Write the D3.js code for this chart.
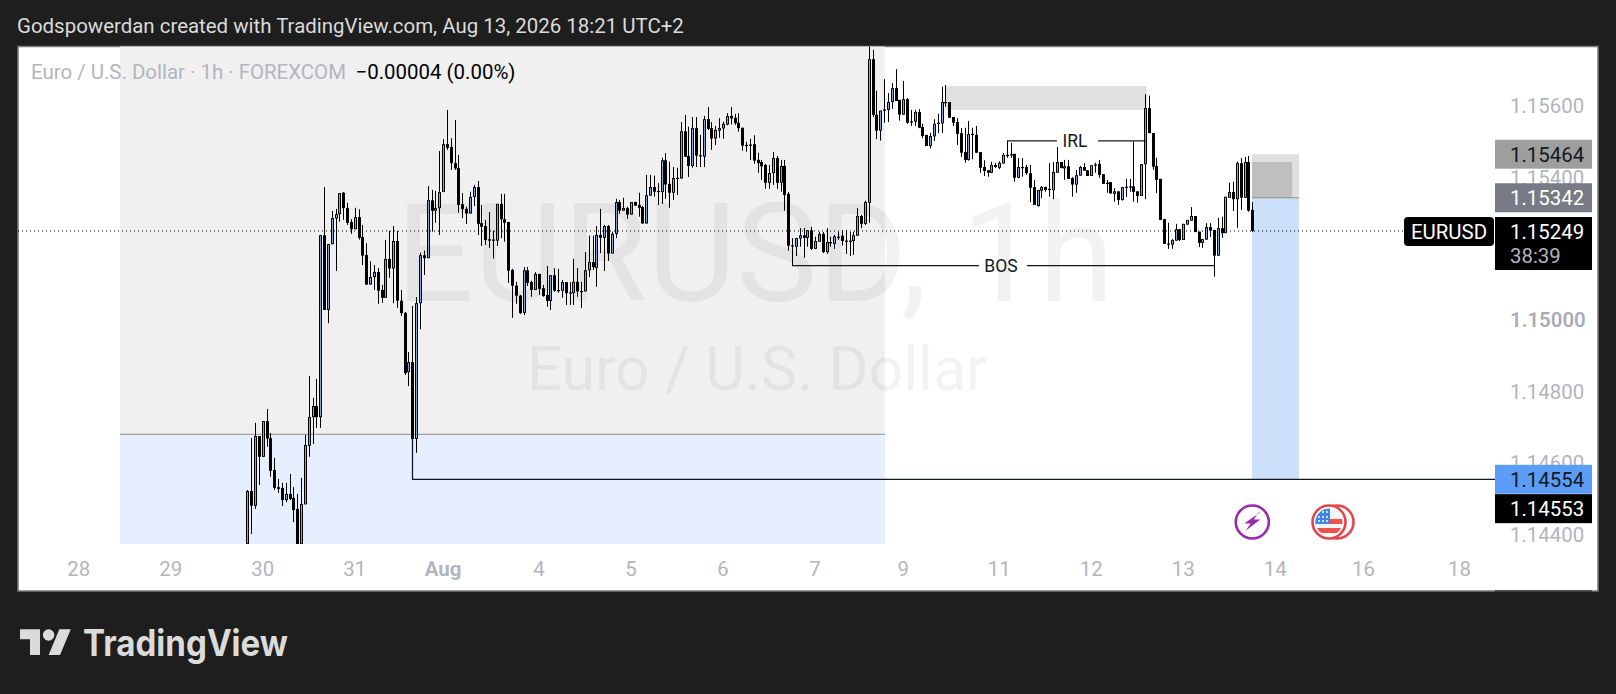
<!DOCTYPE html>
<html><head><meta charset="utf-8">
<script src="https://cdn.jsdelivr.net/npm/d3@7"></script>
<style>html,body{margin:0;padding:0;background:#1e1e1e;overflow:hidden}svg{display:block}text{font-family:Roboto,sans-serif}</style>
</head><body><svg id="c" width="1616" height="694"></svg>
<script>
// All OHLC values are offsets from 1.15000, in 0.00001 units.
const basePrice = 1.15;
const openOff = [
-627,-479,-520,-325,-383,-283,-331,-420,-468,-470,
-504,-487,-498,-529,-627,-516,-352,-272,-241,-272,
237,28,212,284,296,356,313,274,254,288,
232,182,99,120,134,84,62,171,144,221,
54,20,-146,-118,-333,47,181,173,335,306,
313,358,492,484,439,425,324,311,298,344,
372,271,263,226,225,222,325,282,274,140,
96,68,20,139,106,84,129,89,70,53,
125,84,82,106,77,75,107,81,80,139,
162,146,238,230,263,186,241,330,306,313,
295,330,322,316,270,348,372,361,358,447,
381,356,398,396,528,459,431,537,461,457,
562,537,508,530,536,547,571,566,552,538,
490,491,492,448,442,434,384,411,453,384,
431,353,209,205,228,237,230,251,199,219,
241,190,218,213,233,236,222,222,221,236,
291,269,328,730,574,530,589,588,610,649,
616,575,618,556,555,582,540,518,487,514,
552,550,610,610,568,554,523,470,448,521,
518,470,428,419,412,434,426,438,462,464,
465,398,428,428,411,372,319,362,372,367,
363,412,442,424,430,397,379,404,428,419,
403,435,437,408,384,386,353,360,336,373,
374,374,360,347,436,593,523,431,395,282,
214,211,222,254,224,267,278,291,247,216,
225,260,252,180,257,243,342,358,338,439,
342,442,308];
const closeOff = [
-479,-520,-325,-383,-283,-332,-422,-470,-473,-504,
-487,-501,-532,-627,-515,-350,-272,-241,-272,237,
28,212,285,296,355,313,272,254,288,230,
180,99,120,134,82,62,171,144,221,54,
19,-149,-118,-333,47,181,173,336,306,313,
358,492,482,439,424,322,310,298,344,372,
269,261,224,222,223,325,282,272,138,96,
68,19,139,104,84,129,87,67,53,125,
82,81,106,75,75,107,80,79,139,162,
148,238,230,263,186,241,330,306,313,295,
330,320,314,270,349,372,359,358,447,379,
356,397,396,528,457,431,537,460,459,562,
535,508,532,537,549,571,564,551,537,488,
488,489,446,439,430,384,411,453,384,431,
350,208,207,229,237,230,251,199,221,241,
190,218,216,234,231,221,220,220,237,291,
269,330,730,574,530,586,586,610,649,613,
575,618,552,554,582,538,515,487,515,549,
550,610,609,566,552,521,468,448,520,519,
468,426,417,412,434,428,440,462,460,463,
398,428,426,411,370,322,364,372,364,365,
414,442,425,430,395,379,405,428,418,403,
433,433,406,381,383,354,360,336,372,372,
372,358,347,436,593,523,429,392,280,213,
211,224,254,224,269,280,291,246,216,226,
260,250,180,257,243,345,358,338,439,342,
442,306,249];
const highOff = [
-476,-330,-288,-325,-283,-249,-316,-386,-445,-456,
-456,-431,-468,-487,-442,-322,-157,-218,-165,238,
372,213,305,311,355,358,328,282,314,310,
266,215,164,154,145,98,224,249,263,249,
84,22,-90,39,64,188,194,375,364,361,
473,506,588,509,560,462,355,317,359,378,
389,322,280,302,250,325,353,353,274,143,
107,70,148,148,110,134,129,98,151,125,
145,143,112,106,106,171,145,107,190,236,
236,263,311,266,266,247,339,336,342,317,
330,331,356,319,406,406,404,383,454,467,
443,428,426,554,574,541,568,568,518,571,
596,554,543,565,555,579,596,577,579,538,
499,507,517,468,448,437,434,470,459,448,
448,358,229,230,257,257,251,261,233,247,
246,257,233,238,247,252,252,246,247,313,
294,334,767,756,642,586,674,635,663,702,
616,669,621,588,588,590,549,518,524,562,
577,653,658,610,568,565,537,538,557,538,
543,470,447,419,443,440,444,467,501,496,
465,453,453,434,434,392,364,375,373,439,
442,484,442,448,448,400,420,431,439,419,
433,440,448,408,392,386,369,360,372,395,
395,499,360,436,632,628,523,454,395,283,
272,226,269,255,269,280,316,291,247,227,
271,271,252,286,289,345,384,387,443,453,
456,459,330];
const lowOff = [
-627,-599,-529,-462,-384,-355,-439,-476,-484,-521,
-510,-504,-566,-627,-627,-516,-383,-347,-302,-302,
28,-9,212,137,275,280,266,241,254,225,
154,99,99,84,45,48,62,118,47,34,
11,-154,-185,-446,-372,-26,126,173,247,272,
238,358,476,420,420,300,285,269,298,319,
238,207,210,202,172,207,229,219,104,6,
45,17,14,95,65,84,70,65,37,28,
79,76,62,42,42,42,65,33,80,120,
140,93,187,137,165,186,229,297,306,283,
295,320,289,270,270,348,345,322,325,339,
314,336,350,396,457,400,426,428,428,428,
532,476,490,510,507,545,547,546,527,474,
471,448,437,412,392,367,367,378,367,359,
306,194,152,179,205,174,205,196,199,219,
187,185,205,199,224,208,185,179,182,236,
257,266,272,568,506,502,552,554,591,613,
558,575,549,543,543,537,509,487,480,501,
523,523,597,566,543,490,456,440,446,450,
468,412,403,401,411,426,422,437,454,454,
387,397,401,406,330,322,317,341,359,345,
338,412,425,392,395,345,356,404,418,403,
403,412,398,381,356,354,331,322,334,344,
359,331,328,347,338,523,420,355,280,213,
199,199,222,221,224,267,278,246,204,202,
224,232,121,180,230,243,342,305,258,308,
342,303,246];

const yTicks = [1.156,1.154,1.15,1.148,1.146,1.144];
const timeLabels = ["28","29","30","31","Aug","4","5","6","7","9","11","12","13","14","16","18"];
const timeBars = [-44,-20,4,28,51,76,100,124,148,171,196,220,244,268,291,316];
const lastPrice = 1.15249, stopPrice = 1.15464, entryPrice = 1.15342, targetPrice = 1.14554, pricePrice2 = 1.14553;
const zoneGreyBars = [-33.2,166.2];
const zoneDivider = 1.1468, zoneBottom = 1.14373, zoneTop = 1.1695;
const fvgBars = [181.9,234.5], fvgPrices = [1.15655,1.15588];
const posBars = [261.9,274.2,272.4], posInner = 1.15442;
const bosPrice = 1.15152;
const irlPrice = 1.15501;

const open=openOff.map(v=>basePrice+v/1e5), close=closeOff.map(v=>basePrice+v/1e5),
      high=highOff.map(v=>basePrice+v/1e5), low=lowOff.map(v=>basePrice+v/1e5);

const x = d3.scaleLinear().domain([0,262]).range([247.4,1252.3]);
const y = d3.scaleLinear().domain([lastPrice,targetPrice]).range([231,479.3]);
const px = i => Math.round(x(i));
const svg = d3.select("#c");
const paneL=18, paneT=46.5, paneR=1598, paneB=591, axisX=1495, FS=20.4;

svg.append("rect").attr("width",1616).attr("height",694).attr("fill","#1e1e1e");
svg.append("rect").attr("x",paneL).attr("y",paneT).attr("width",paneR-paneL).attr("height",paneB-paneT)
   .attr("fill","#fff").attr("stroke","#7a7a7a").attr("stroke-width",1.5);
svg.append("line").attr("x1",axisX).attr("x2",1592).attr("y1",paneB).attr("y2",paneB).attr("stroke","#333").attr("stroke-width",1.5);

const defs=svg.append("defs");
defs.append("clipPath").attr("id","pane").append("rect").attr("x",paneL).attr("y",paneT).attr("width",paneR-paneL).attr("height",paneB-paneT);
const g = svg.append("g").attr("clip-path","url(#pane)");

function box(xa,xb,pa,pb,fill){return g.append("rect").attr("x",x(xa)).attr("width",x(xb)-x(xa)).attr("y",y(pa)).attr("height",y(pb)-y(pa)).attr("fill",fill);}
// zones
box(zoneGreyBars[0],zoneGreyBars[1],zoneTop,zoneDivider,"#f0f0f0");
box(zoneGreyBars[0],zoneGreyBars[1],zoneDivider,zoneBottom,"#e6effd");
g.append("line").attr("x1",x(zoneGreyBars[0])).attr("x2",x(zoneGreyBars[1])).attr("y1",y(zoneDivider)).attr("y2",y(zoneDivider)).attr("stroke","#a0a0a0").attr("stroke-width",1.2);

// watermark
g.append("text").attr("x",755).attr("y",301).attr("text-anchor","middle").attr("font-size",137).attr("fill","rgba(0,0,0,0.052)").text("EURUSD, 1h");
g.append("text").attr("x",757).attr("y",390).attr("text-anchor","middle").attr("font-size",61).attr("fill","rgba(0,0,0,0.052)").text("Euro / U.S. Dollar");

box(fvgBars[0],fvgBars[1],fvgPrices[0],fvgPrices[1],"#e0e0e0");
box(posBars[0],posBars[1],stopPrice,entryPrice,"#e0e0e0");
box(posBars[0],posBars[2],posInner,entryPrice,"#bfbfbf");
box(posBars[0],posBars[1],entryPrice,targetPrice,"#cce0fa");
g.append("line").attr("x1",x(posBars[0])).attr("x2",x(posBars[1])).attr("y1",y(entryPrice)).attr("y2",y(entryPrice)).attr("stroke","#8a8a8a").attr("stroke-width",1);

// last price dotted line
g.append("line").attr("x1",paneL).attr("x2",1404).attr("y1",y(lastPrice)).attr("y2",y(lastPrice))
 .attr("stroke","#000").attr("stroke-width",1).attr("stroke-dasharray","1 3");

// candles
const idx=d3.range(open.length);
g.append("g").selectAll("line").data(idx).join("line")
 .attr("x1",i=>px(i)+.5).attr("x2",i=>px(i)+.5).attr("y1",i=>y(high[i])).attr("y2",i=>y(low[i]))
 .attr("stroke","#000").attr("stroke-width",1);
const bodies=g.append("g");
bodies.selectAll("rect.b").data(idx).join("rect").attr("class","b")
 .attr("x",i=>px(i)-1).attr("width",3)
 .attr("y",i=>y(Math.max(open[i],close[i])))
 .attr("height",i=>Math.max(1.2,Math.abs(y(open[i])-y(close[i]))))
 .attr("fill","#000");
bodies.selectAll("rect.u").data(idx.filter(i=>close[i]>open[i])).join("rect").attr("class","u")
 .attr("x",i=>px(i)).attr("width",1)
 .attr("y",i=>y(close[i])+.8)
 .attr("height",i=>Math.max(0,y(open[i])-y(close[i])-1.6))
 .attr("fill","#7ea6d6");

// annotations
const note = g.append("g").attr("stroke","#131722").attr("stroke-width",1.3);
note.append("line").attr("x1",px(43)+.5).attr("x2",px(43)+.5).attr("y1",y(close[43])).attr("y2",y(targetPrice));
note.append("line").attr("x1",px(43)).attr("x2",axisX).attr("y1",y(targetPrice)).attr("y2",y(targetPrice));
note.append("line").attr("x1",px(142)).attr("x2",px(142)+187).attr("y1",y(bosPrice)).attr("y2",y(bosPrice));
note.append("line").attr("x1",px(142)+235).attr("x2",px(252)+.5).attr("y1",y(bosPrice)).attr("y2",y(bosPrice));
note.append("line").attr("x1",px(198)).attr("x2",px(198)+50).attr("y1",y(irlPrice)).attr("y2",y(irlPrice));
note.append("line").attr("x1",px(198)+91).attr("x2",px(234)+2).attr("y1",y(irlPrice)).attr("y2",y(irlPrice));
g.append("text").attr("x",px(142)+209).attr("y",y(bosPrice)+6).attr("text-anchor","middle").attr("font-size",17.5).attr("fill","#131722").text("BOS");
g.append("text").attr("x",px(198)+68).attr("y",y(irlPrice)+6).attr("text-anchor","middle").attr("font-size",17.5).attr("fill","#131722").text("IRL");

// price axis
svg.append("g").selectAll("text").data(yTicks).join("text")
 .attr("x",1510).attr("y",d=>y(d)+7.5).attr("font-size",FS).attr("fill",d=>d===1.15?"#a9acb6":"#b2b5be")
 .attr("font-weight",d=>d===1.15?600:400).text(d=>d.toFixed(5));

function priceTag(p,bg,fg,bottom){
 const yc=y(p)+(bottom||0);
 svg.append("rect").attr("x",axisX).attr("y",yc-14.5).attr("width",97).attr("height",29).attr("fill",bg);
 svg.append("text").attr("x",1510).attr("y",yc+7.5).attr("font-size",FS).attr("fill",fg).text(p.toFixed(5));
}
priceTag(stopPrice,"#9e9e9e","#131722");
priceTag(entryPrice,"#787b86","#ffffff");
svg.append("rect").attr("x",1404).attr("y",217).attr("width",90).attr("height",29).attr("rx",4).attr("fill","#000");
svg.append("rect").attr("x",axisX).attr("y",217).attr("width",97).attr("height",53).attr("fill","#000");
svg.append("text").attr("x",1449).attr("y",239).attr("text-anchor","middle").attr("font-size",FS).attr("fill","#fff").text("EURUSD");
svg.append("text").attr("x",1510).attr("y",239).attr("font-size",FS).attr("fill","#fff").text(lastPrice.toFixed(5));
svg.append("text").attr("x",1510).attr("y",263).attr("font-size",FS).attr("fill","#b2b5be").text("38:39");
priceTag(targetPrice,"#5b9cf6","#131722");
priceTag(pricePrice2,"#000","#fff",29);

// time axis
svg.append("g").selectAll("text").data(timeLabels).join("text")
 .attr("x",(d,i)=>x(timeBars[i])).attr("y",576).attr("text-anchor","middle").attr("font-size",FS)
 .attr("font-weight",d=>d==="Aug"?700:400).attr("fill","#b2b5be").text(d=>d);

// event icons
const bolt=svg.append("g").attr("transform",`translate(${x(262)},522)`);
bolt.append("circle").attr("r",16.5).attr("fill","#fff").attr("stroke","#9c27b0").attr("stroke-width",2.6);
bolt.append("path").attr("d","M7.5,-9.5 L-8,1.5 L-1.5,1.5 L-7,9 L8,-2.5 L1.5,-2.5 L6,-9.5 Z").attr("fill","#9c27b0");
const flag=svg.append("g").attr("transform",`translate(${x(282)},522)`);
flag.append("circle").attr("cx",8).attr("r",16.5).attr("fill","#fff").attr("stroke","#e5444b").attr("stroke-width",2.6);
flag.append("circle").attr("r",16.5).attr("fill","#fff").attr("stroke","#e5444b").attr("stroke-width",2.6);
defs.append("clipPath").attr("id","fl").append("circle").attr("cx",0).attr("cy",0).attr("r",13.5);
const fl=flag.append("g").attr("clip-path","url(#fl)");
fl.append("rect").attr("x",-14).attr("y",-14).attr("width",28).attr("height",28).attr("fill","#f5f5f5");
[-3,6].forEach(s=>fl.append("rect").attr("x",-14).attr("y",s).attr("width",28).attr("height",5).attr("fill","#ef5350"));
fl.append("rect").attr("x",-14).attr("y",-14).attr("width",15).attr("height",16).attr("fill","#3f87e6");
[-10,-5,-1].forEach(sy=>[-10,-6,-2].forEach(sx=>fl.append("circle").attr("cx",sx).attr("cy",sy).attr("r",1).attr("fill","#fff")));

// header
svg.append("text").attr("x",17).attr("y",33).attr("font-size",FS+.05).attr("fill","#dbdbdb").text("Godspowerdan created with TradingView.com, Aug 13, 2026 18:21 UTC+2");
svg.append("text").attr("x",31).attr("y",79).attr("font-size",FS+.05).attr("fill","#b2b5be").text("Euro / U.S. Dollar · 1h · FOREXCOM");
svg.append("text").attr("x",355.5).attr("y",79).attr("font-size",FS+.05).attr("fill","#000").text("−0.00004 (0.00%)");

// logo
const logo=svg.append("g").attr("transform","translate(20,623.5) scale(1.43)");
logo.append("path").attr("d","M14 22H7V11H0V4h14v18zM28 22h-8l7.5-18h8L28 22z").attr("fill","#dbdbdb");
logo.append("circle").attr("cx",20).attr("cy",8).attr("r",4).attr("fill","#dbdbdb");
svg.append("text").attr("x",83).attr("y",656).attr("font-size",37).attr("font-weight",700).attr("fill","#dbdbdb")
 .attr("style","font-family:Inter,Roboto,sans-serif").attr("textLength",205).attr("lengthAdjust","spacingAndGlyphs").text("TradingView");
</script></body></html>
